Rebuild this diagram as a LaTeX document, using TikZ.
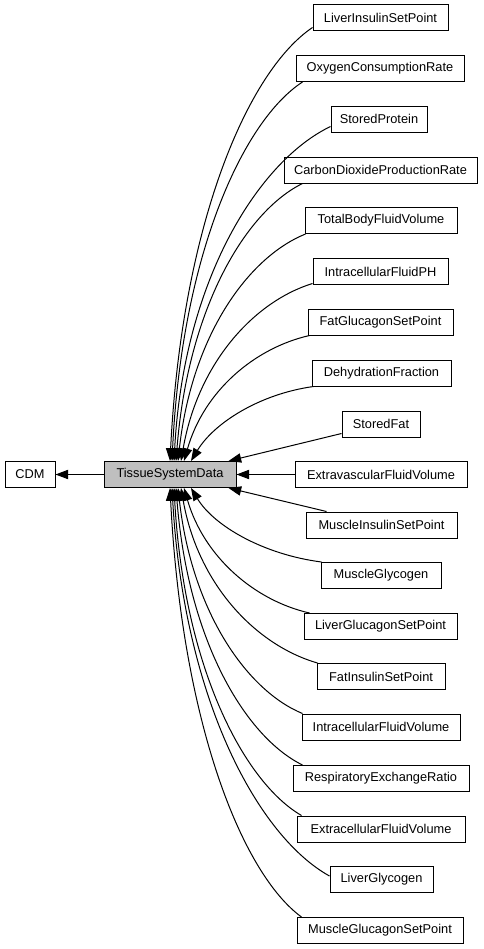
\documentclass[tikz,border=0pt]{standalone}
\usepackage{fontspec}
\setmainfont{Liberation Sans}
\usetikzlibrary{arrows.meta,calc}
\definecolor{tsdgray}{RGB}{191,191,191}
\begin{document}
\begin{tikzpicture}[x=0.75pt,y=-0.75pt,
  box/.style={draw=black,line width=0.75pt,inner sep=0pt,minimum height=19.5pt,
    font=\fontsize{9.6pt}{11pt}\selectfont,fill=white},
  bw/.style={minimum width=#1*0.75pt},
  edge/.style={line width=0.75pt,draw=black,-{Triangle[length=9.5pt,width=7pt]}}]
\path[use as bounding box,fill=white] (0,0) rectangle (484,949);

\node[box,bw=50] (cdm) at (30,474.5) {CDM};
\node[box,bw=132,fill=tsdgray] (tsd) at (170,474.5) {TissueSystemData};

\node[box,bw=135] (n0) at (380.5,18) {LiverInsulinSetPoint};
\node[box,bw=168] (n1) at (380,68.5) {OxygenConsumptionRate};
\node[box,bw=96] (n2) at (379,119) {StoredProtein};
\node[box,bw=193] (n3) at (380.5,170) {CarbonDioxideProductionRate};
\node[box,bw=152] (n4) at (381,220.5) {TotalBodyFluidVolume};
\node[box,bw=135] (n5) at (380.5,271.5) {IntracellularFluidPH};
\node[box,bw=145] (n6) at (380.5,322) {FatGlucagonSetPoint};
\node[box,bw=139] (n7) at (381.5,373) {DehydrationFraction};
\node[box,bw=78] (n8) at (381,424) {StoredFat};
\node[box,bw=172] (n9) at (381,474.5) {ExtravascularFluidVolume};
\node[box,bw=151] (n10) at (381.5,525) {MuscleInsulinSetPoint};
\node[box,bw=120] (n11) at (381,575.5) {MuscleGlycogen};
\node[box,bw=153] (n12) at (380.5,626.5) {LiverGlucagonSetPoint};
\node[box,bw=128] (n13) at (381,676.5) {FatInsulinSetPoint};
\node[box,bw=158] (n14) at (381,727) {IntracellularFluidVolume};
\node[box,bw=176] (n15) at (381,778.5) {RespiratoryExchangeRatio};
\node[box,bw=168] (n16) at (381,829) {ExtracellularFluidVolume};
\node[box,bw=103] (n17) at (381.5,879.5) {LiverGlycogen};
\node[box,bw=166] (n18) at (380,930.5) {MuscleGlucagonSetPoint};

% edge to CDM
\draw[edge] (tsd.west) -- (cdm.east);

% upper group
\draw[edge] ($(n0.south west)+(0,-4)$) coordinate (s0)
  .. controls ($(s0)+(-64,43)$) and ($(tsd.north)+(12,-239)$) .. ($(tsd.north)+(0,0)$);
\draw[edge] ($(n1.south west)+(7,0)$) coordinate (s1)
  .. controls ($(s1)+(-58.5,38)$) and ($(tsd.north)+(12,-209)$) .. ($(tsd.north)+(2,0)$);
\draw[edge] ($(n2.south west)+(0,-6)$) coordinate (s2)
  .. controls ($(s2)+(-70,33.5)$) and ($(tsd.north)+(14,-184.5)$) .. ($(tsd.north)+(4,0)$);
\draw[edge] ($(n3.south west)+(19,0)$) coordinate (s3)
  .. controls ($(s3)+(-57,28)$) and ($(tsd.north)+(18,-153)$) .. ($(tsd.north)+(6,0)$);
\draw[edge] ($(n4.south west)+(1,0)$) coordinate (s4)
  .. controls ($(s4)+(-57,23)$) and ($(tsd.north)+(22,-126)$) .. ($(tsd.north)+(8,0)$);
\draw[edge] ($(n5.south west)+(0,-1.5)$) coordinate (s5)
  .. controls ($(s5)+(-58.5,18)$) and ($(tsd.north)+(28,-98)$) .. ($(tsd.north)+(11,0)$);
\draw[edge] ($(n6.south west)+(2,0)$) coordinate (s6)
  .. controls ($(s6)+(-55,12.5)$) and ($(tsd.north)+(34,-70)$) .. ($(tsd.north)+(14,0)$);
\draw[edge] ($(n7.south west)+(2,0)$) coordinate (s7)
  .. controls ($(s7)+(-54,7.5)$) and ($(tsd.north)+(44,-38)$) .. ($(tsd.north)+(21,0)$);

% middle
\draw[edge] ($(n8.south west)+(0,-4)$) -- ($(tsd.north east)+(-8,0)$);
\draw[edge] (n9.west) -- (tsd.east);
\draw[edge] ($(n10.north west)+(21,0)$) -- ($(tsd.south east)+(-8,0)$);

% lower group
\draw[edge] ($(n11.north west)+(1,0)$) coordinate (s11)
  .. controls ($(s11)+(-58,-7.5)$) and ($(tsd.south)+(44,38)$) .. ($(tsd.south)+(21,0)$);
\draw[edge] ($(n12.north west)+(6,0)$) coordinate (s12)
  .. controls ($(s12)+(-55,-12.5)$) and ($(tsd.south)+(34,69)$) .. ($(tsd.south)+(14,0)$);
\draw[edge] ($(n13.north west)+(1,0)$) coordinate (s13)
  .. controls ($(s13)+(-61,-17.5)$) and ($(tsd.south)+(28,97)$) .. ($(tsd.south)+(11,0)$);
\draw[edge] ($(n14.north west)+(1,0)$) coordinate (s14)
  .. controls ($(s14)+(-55,-22.5)$) and ($(tsd.south)+(22,124.5)$) .. ($(tsd.south)+(8,0)$);
\draw[edge] ($(n15.north west)+(10,0)$) coordinate (s15)
  .. controls ($(s15)+(-57,-28)$) and ($(tsd.south)+(18,153)$) .. ($(tsd.south)+(6,0)$);
\draw[edge] ($(n16.north west)+(5,0)$) coordinate (s16)
  .. controls ($(s16)+(-57,-33)$) and ($(tsd.south)+(14,180.5)$) .. ($(tsd.south)+(4,0)$);
\draw[edge] ($(n17.west)+(0,-3.5)$) coordinate (s17)
  .. controls ($(s17)+(-70.5,-39)$) and ($(tsd.south)+(14,213.5)$) .. ($(tsd.south)+(2,0)$);
\draw[edge] ($(n18.north west)+(5,0)$) coordinate (s18)
  .. controls ($(s18)+(-59,-43)$) and ($(tsd.south)+(12,236.5)$) .. ($(tsd.south)+(0,0)$);
\end{tikzpicture}
\end{document}
